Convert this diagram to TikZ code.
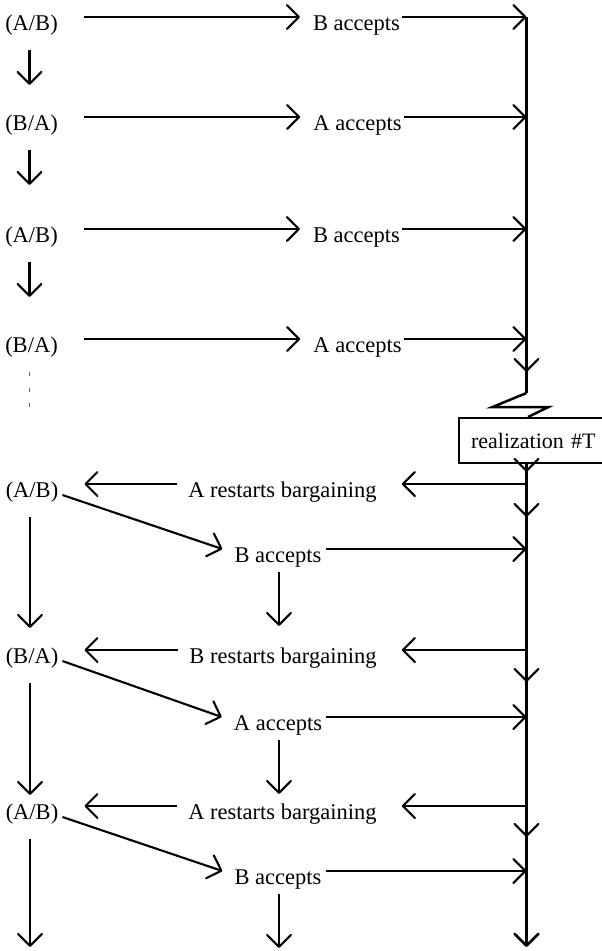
\documentclass[tikz,border=0pt]{standalone}
\usepackage{fontspec}
\setmainfont{Liberation Serif}
\usetikzlibrary{arrows.meta}
\begin{document}
\begin{tikzpicture}[x=1pt,y=-1pt,
  lbl/.style={font=\fontsize{22.5pt}{27pt}\selectfont, inner sep=0pt, anchor=base},
  ln/.style={line width=2.1pt},
  arr/.style={ln, -{Straight Barb[length=12pt,width=24pt,round]}},
  trunk/.style={line width=2.5pt},
  dots/.style={line width=1.8pt, black!60, dash pattern=on 4pt off 11.5pt},
  boxst/.style={draw, line width=2.1pt, fill=white, anchor=north west, minimum height=45pt,
    text width=200pt, align=left, inner xsep=12pt, inner ysep=0pt,
    font=\fontsize{22pt}{26pt}\selectfont}]
\useasboundingbox (0,0) rectangle (602,951);
\clip (0,0) rectangle (602,951);

% ---------- top part ----------
\node[lbl] (t1) at (31.5,30) {(A/B)};
\node[lbl] (a1) at (356.5,30) {B accepts};
\node[lbl] (t2) at (31.5,130) {(B/A)};
\node[lbl] (a2) at (357.5,130) {A accepts};
\node[lbl] (t3) at (31.5,242) {(A/B)};
\node[lbl] (a3) at (356.5,242) {B accepts};
\node[lbl] (t4) at (31.5,352) {(B/A)};
\node[lbl] (a4) at (357.5,352) {A accepts};

\coordinate (r1) at (526.5,17);
\coordinate (r2) at (526.5,117);
\coordinate (r3) at (526.5,229);
\coordinate (r4) at (526.5,339);
\coordinate (rd) at (526.5,372);
\coordinate (rdt) at (526.5,350);
\coordinate (zz) at (526.5,393);

\draw[trunk] (r1) -- (zz);
\draw[arr] (rdt) -- (rd);

\foreach \t/\a/\r in {t1/a1/r1, t2/a2/r2, t3/a3/r3, t4/a4/r4}{
  \draw[arr] ([xshift=26pt,yshift=13pt]\t.base east) -- ([xshift=-13pt,yshift=13pt]\a.base west);
  \draw[arr] ([xshift=2pt,yshift=13pt]\a.base east) -- (\r);
}
\foreach \t in {t1,t2,t3}{
  \draw[arr] ([xshift=-2pt,yshift=-20pt]\t.base) -- ([xshift=-2pt,yshift=-55pt]\t.base);
}
\draw[dots] ([xshift=-2pt,yshift=-20pt]t4.base) -- ([xshift=-2pt,yshift=-55pt]t4.base);

% ---------- realization box ----------
\node[boxst] (box) at (458,417) {realization \#T};
\draw[trunk, line join=miter] (zz) -- ++(-34,14) -- ++(56,0) -- ([xshift=70pt]box.north west);
\coordinate (rb) at (526.5,462);
\coordinate (rend) at (526.5,947);
\draw[arr, trunk] (rb) -- (rend);
\draw[arr] (rb) -- ++(0,10);

% ---------- bottom part ----------
\node[lbl] (b1) at (32,497) {(A/B)};
\node[lbl] (s1) at (282.5,497) {A restarts bargaining};
\node[lbl] (c1) at (278,562) {B accepts};
\node[lbl] (b2) at (32,663) {(B/A)};
\node[lbl] (s2) at (283,663) {B restarts bargaining};
\node[lbl] (c2) at (278,730) {A accepts};
\node[lbl] (b3) at (32,819) {(A/B)};
\node[lbl] (s3) at (282.5,819) {A restarts bargaining};
\node[lbl] (c3) at (278,884) {B accepts};

\coordinate (q1) at (526.5,484);
\coordinate (q2) at (526.5,650);
\coordinate (q3) at (526.5,806);
\coordinate (p1) at (526.5,549);
\coordinate (p2) at (526.5,717);
\coordinate (p3) at (526.5,871);
\coordinate (d1) at (526.5,517);
\coordinate (d2) at (526.5,682);
\coordinate (d3) at (526.5,837);

\foreach \b/\s/\c/\q/\p/\d in {b1/s1/c1/q1/p1/d1, b2/s2/c2/q2/p2/d2, b3/s3/c3/q3/p3/d3}{
  \draw[arr] (\q) -- ([xshift=25pt,yshift=13pt]\s.base east);
  \draw[arr] ([xshift=-11pt,yshift=13pt]\s.base west) -- ([xshift=26pt,yshift=13pt]\b.base east);
  \draw[arr] ([xshift=4pt,yshift=2pt]\b.base east) -- ([xshift=-12pt,yshift=13pt]\c.base west);
  \draw[arr] ([xshift=4pt,yshift=13pt]\c.base east) -- (\p);
  \draw[arr] ([xshift=1pt,yshift=-10pt]\c.base) -- ([xshift=1pt,yshift=-64pt]\c.base);
  \draw[arr] ([yshift=20pt]\d) -- (\d);
}
\draw[arr] ([xshift=-2pt,yshift=-20pt]b1.base) -- ([xshift=-2pt,yshift=35pt]b2.base);
\draw[arr] ([xshift=-2pt,yshift=-20pt]b2.base) -- ([xshift=-2pt,yshift=24pt]b3.base);
\draw[arr] ([xshift=-2pt,yshift=-20pt]b3.base) -- ([xshift=-2pt,yshift=-128pt]b3.base);
\end{tikzpicture}
\end{document}
